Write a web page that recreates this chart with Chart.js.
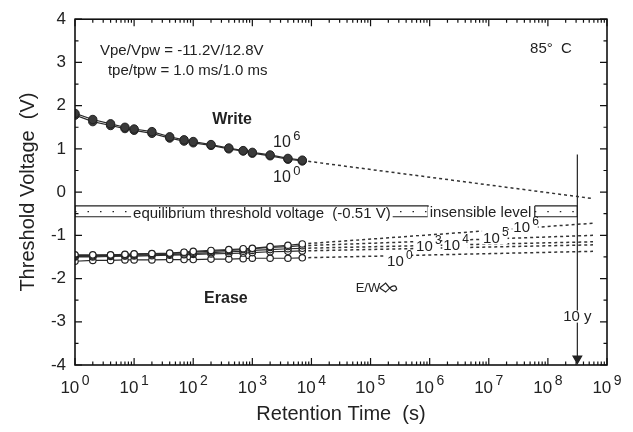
<!DOCTYPE html>
<html>
<head>
<meta charset="utf-8">
<script src="https://cdn.jsdelivr.net/npm/chart.js@4.4.1/dist/chart.umd.min.js"></script>
<style>
body { margin: 0; background: #fff; }
#wrap { width: 633px; height: 432px; }
</style>
</head>
<body>
<div id="wrap"><canvas id="retentionChart" width="633" height="432"></canvas></div>
<script>
// measured points (s)
const retentionTimes = [1, 2, 4, 7, 10, 20, 40, 70, 100, 200, 400, 700, 1000, 2000, 4000, 7000];

// write state, 10^0 and 10^6 E/W cycles
const write1e0 = [1.78, 1.63, 1.54, 1.47, 1.43, 1.36, 1.25, 1.18, 1.14, 1.08, 1.00, 0.95, 0.90, 0.84, 0.76, 0.72];
const write1e6 = [1.82, 1.68, 1.58, 1.50, 1.46, 1.40, 1.28, 1.21, 1.17, 1.10, 1.02, 0.96, 0.92, 0.86, 0.78, 0.74];

// erase state
const erase1e0 = [-1.60, -1.58, -1.58, -1.57, -1.57, -1.57, -1.56, -1.56, -1.56, -1.55, -1.55, -1.54, -1.53, -1.53, -1.53, -1.52];
const erase1e3 = [-1.50, -1.50, -1.49, -1.48, -1.48, -1.47, -1.46, -1.45, -1.44, -1.43, -1.42, -1.41, -1.40, -1.38, -1.37, -1.36];
const erase1e4 = [-1.49, -1.48, -1.47, -1.47, -1.46, -1.45, -1.44, -1.43, -1.42, -1.40, -1.38, -1.37, -1.35, -1.33, -1.31, -1.30];
const erase1e5 = [-1.47, -1.47, -1.46, -1.45, -1.44, -1.43, -1.42, -1.40, -1.39, -1.37, -1.35, -1.33, -1.31, -1.28, -1.26, -1.24];
const erase1e6 = [-1.45, -1.45, -1.45, -1.44, -1.43, -1.42, -1.41, -1.39, -1.37, -1.35, -1.33, -1.31, -1.30, -1.26, -1.23, -1.20];

// extrapolation lines
const extrapTimes = [7000, 5.8e8];
const writeExtrap = [0.73, -0.15];
const eraseExtrap1e0 = [-1.52, -1.37];
const eraseExtrap1e3 = [-1.36, -1.22];
const eraseExtrap1e4 = [-1.30, -1.15];
const eraseExtrap1e5 = [-1.24, -1.00];
const eraseExtrap1e6 = [-1.20, -0.72];

// equilibrium band / insensible level box
const bandTimes = [1, 9.4e5];
const boxTimes = [6.0e7, 3.15e8];
const bandVolts = [-0.32, -0.57];
const bandDotVolt = -0.45;

// 10 years arrow
const tenYears = 3.15e8;
const arrowVolts = [0.87, -3.85];

const xDecades = [0, 1, 2, 3, 4, 5, 6, 7, 8, 9];
const yTicks = [-4, -3, -2, -1, 0, 1, 2, 3, 4];

const FONT = '"Liberation Sans", Arial, sans-serif';

function pts(xs, ys) {
    return xs.map(function (t, i) { return {x: t, y: ys[i]}; });
}

function rectPts(xs, ys) {
    return [
        {x: xs[0], y: ys[0]}, {x: xs[1], y: ys[0]},
        {x: xs[1], y: ys[1]}, {x: xs[0], y: ys[1]}, {x: xs[0], y: ys[0]}
    ];
}

function writeSet(data) {
    return {
        data: pts(retentionTimes, data), showLine: true,
        borderColor: '#2a2a2a', borderWidth: 1.2,
        pointRadius: 4.2, pointBackgroundColor: '#3a3a3a', pointBorderColor: '#222', pointBorderWidth: 1
    };
}

function eraseSet(data) {
    return {
        data: pts(retentionTimes, data), showLine: true,
        borderColor: '#2a2a2a', borderWidth: 1.2,
        pointRadius: 3.2, pointBackgroundColor: '#fff', pointBorderColor: '#222', pointBorderWidth: 1.2
    };
}

function dashSet(xs, ys) {
    return {
        data: pts(xs, ys), showLine: true,
        borderColor: '#333', borderWidth: 1.5, borderDash: [3, 3], pointRadius: 0
    };
}

function plainSet(data, dash) {
    return {
        data: data, showLine: true, borderColor: '#222', borderWidth: 1.2,
        borderDash: dash || [], pointRadius: 0
    };
}

// draws "10" with a raised exponent
function drawPow(ctx, x, y, exp, size, align) {
    ctx.font = size + 'px ' + FONT;
    let bw = ctx.measureText('10').width;
    let es = Math.round(size * 0.8);
    ctx.font = es + 'px ' + FONT;
    let ew = ctx.measureText(String(exp)).width;
    let gap = size * 0.15;
    let total = bw + gap + ew;
    let left = align === 'center' ? x - total / 2 : x;
    ctx.textBaseline = 'alphabetic';
    ctx.textAlign = 'left';
    ctx.font = size + 'px ' + FONT;
    ctx.fillText('10', left, y);
    ctx.font = es + 'px ' + FONT;
    ctx.fillText(String(exp), left + bw + gap, y - size * 0.45);
    return total;
}

const paperPlugin = {
    id: 'paper',
    afterDatasetsDraw: function (chart) {
        const ctx = chart.ctx;
        const a = chart.chartArea;
        const x = chart.scales.x, y = chart.scales.y;
        const X = function (v) { return x.getPixelForValue(v); };
        const Y = function (v) { return y.getPixelForValue(v); };

        ctx.save();
        ctx.fillStyle = '#222';

        function label(text, tx, ty, size, bold, align, whiteBg) {
            ctx.font = (bold ? 'bold ' : '') + size + 'px ' + FONT;
            ctx.textAlign = align || 'left';
            ctx.textBaseline = 'middle';
            if (whiteBg) {
                let w = ctx.measureText(text).width;
                let lx = align === 'center' ? X(tx) - w / 2 : X(tx);
                ctx.fillStyle = '#fff';
                ctx.fillRect(lx - 2, Y(ty) - 6, w + 4, 12);
                ctx.fillStyle = '#222';
            }
            ctx.fillText(text, X(tx), Y(ty));
        }

        function powLabel(exp, tx, ty, size, whiteBg) {
            if (whiteBg) {
                ctx.fillStyle = '#fff';
                ctx.fillRect(X(tx) - 1, Y(ty) - 9, size * 1.7, 16);
                ctx.fillStyle = '#222';
            }
            drawPow(ctx, X(tx), Y(ty) + size * 0.35, exp, size, 'left');
        }

        label('Vpe/Vpw = -11.2V/12.8V', 2.65, 3.27, 15, false);
        label('tpe/tpw = 1.0 ms/1.0 ms', 3.6, 2.81, 15, false);
        label('85\u00B0  C', 5e7, 3.31, 15, false);
        label('Write', 455, 1.67, 16, true, 'center');
        label('Erase', 357, -2.47, 16, true, 'center');

        powLabel(6, 2240, 1.17, 16, false);
        powLabel(0, 2240, 0.37, 16, false);

        label('equilibrium threshold voltage  (-0.51 V)', 9.6, -0.50, 15, false, 'left', true);
        label('insensible level', 1.0e6, -0.48, 15, false, 'left', true);

        powLabel(0, 1.9e5, -1.58, 15, true);
        powLabel(3, 5.9e5, -1.24, 15, true);
        powLabel(4, 1.7e6, -1.21, 15, true);
        powLabel(5, 8.0e6, -1.05, 15, true);
        powLabel(6, 2.6e7, -0.80, 15, true);

        label('10 y', tenYears, -2.88, 15, false, 'center', true);

        // E/W label with its little cycle glyph
        label('E/W', 5.6e4, -2.22, 13, false);
        let gx = X(5.6e4) + 24, gy = Y(-2.22);
        ctx.strokeStyle = '#222';
        ctx.lineWidth = 1.2;
        ctx.beginPath();
        ctx.moveTo(gx, gy);
        ctx.lineTo(gx + 6, gy - 5);
        ctx.lineTo(gx + 10, gy);
        ctx.lineTo(gx + 6, gy + 4);
        ctx.lineTo(gx, gy);
        ctx.moveTo(gx + 10, gy);
        ctx.quadraticCurveTo(gx + 16, gy - 5, gx + 17, gy + 1);
        ctx.quadraticCurveTo(gx + 14, gy + 5, gx + 10, gy);
        ctx.stroke();

        // frame and inward ticks
        ctx.strokeStyle = '#111';
        ctx.lineWidth = 1.6;
        ctx.strokeRect(a.left, a.top, a.right - a.left, a.bottom - a.top);
        ctx.lineWidth = 1.2;
        ctx.beginPath();
        xDecades.forEach(function (d) {
            for (let m = 1; m <= 9; m++) {
                let v = m * Math.pow(10, d);
                if (v > 1e9) break;
                let px = X(v);
                let len = m === 1 ? 7 : 3.5;
                ctx.moveTo(px, a.bottom); ctx.lineTo(px, a.bottom - len);
                ctx.moveTo(px, a.top); ctx.lineTo(px, a.top + len);
            }
        });
        for (let v = -4; v <= 4; v += 0.5) {
            let py = Y(v);
            let len = Number.isInteger(v) ? 7 : 3.5;
            ctx.moveTo(a.left, py); ctx.lineTo(a.left + len, py);
            ctx.moveTo(a.right, py); ctx.lineTo(a.right - len, py);
        }
        ctx.stroke();

        // x tick labels 10^n
        ctx.fillStyle = '#222';
        xDecades.forEach(function (d) {
            drawPow(ctx, X(Math.pow(10, d)), a.bottom + 28, d, 17, 'center');
        });
        ctx.restore();
    }
};

const datasets = [
    writeSet(write1e6),
    writeSet(write1e0),
    eraseSet(erase1e6),
    eraseSet(erase1e5),
    eraseSet(erase1e4),
    eraseSet(erase1e3),
    eraseSet(erase1e0),
    dashSet(extrapTimes, writeExtrap),
    dashSet(extrapTimes, eraseExtrap1e0),
    dashSet(extrapTimes, eraseExtrap1e3),
    dashSet(extrapTimes, eraseExtrap1e4),
    dashSet(extrapTimes, eraseExtrap1e5),
    dashSet(extrapTimes, eraseExtrap1e6),
    plainSet(rectPts(bandTimes, bandVolts)),
    plainSet(rectPts(boxTimes, bandVolts)),
    plainSet(pts(bandTimes, [bandDotVolt, bandDotVolt]), [1.5, 11]),
    plainSet(pts(boxTimes, [bandDotVolt, bandDotVolt]), [1.5, 11]),
    {
        data: pts([tenYears, tenYears], arrowVolts), showLine: true,
        borderColor: '#222', borderWidth: 1.2,
        pointStyle: 'triangle', rotation: 180,
        pointRadius: [0, 5], pointBackgroundColor: '#222', pointBorderColor: '#222'
    }
];

const retentionChart = new Chart(document.getElementById('retentionChart'), {
    type: 'scatter',
    data: {datasets: datasets},
    options: {
        responsive: false,
        animation: false,
        devicePixelRatio: 1,
        layout: {padding: {left: 12, right: 26, top: 15, bottom: 0}},
        plugins: {legend: {display: false}, tooltip: {enabled: false}},
        scales: {
            x: {
                type: 'logarithmic', min: 1, max: 1e9,
                grid: {display: false, drawTicks: false},
                border: {display: false},
                ticks: {display: false},
                title: {display: true, text: 'Retention Time  (s)', color: '#222',
                    font: {size: 20, family: FONT}, padding: {top: 0, bottom: 6}},
                afterFit: function (s) { s.height = 67; }
            },
            y: {
                min: -4, max: 4,
                afterBuildTicks: function (s) { s.ticks = yTicks.map(function (v) { return {value: v}; }); },
                grid: {display: false, drawTicks: false},
                border: {display: false},
                ticks: {color: '#222', font: {size: 17, family: FONT}, padding: 9},
                title: {display: true, text: 'Threshold Voltage  (V)', color: '#222',
                    font: {size: 20, family: FONT}, padding: {top: 4, bottom: 4}},
                afterFit: function (s) { s.width = 63; }
            }
        }
    },
    plugins: [paperPlugin]
});
</script>
</body>
</html>
